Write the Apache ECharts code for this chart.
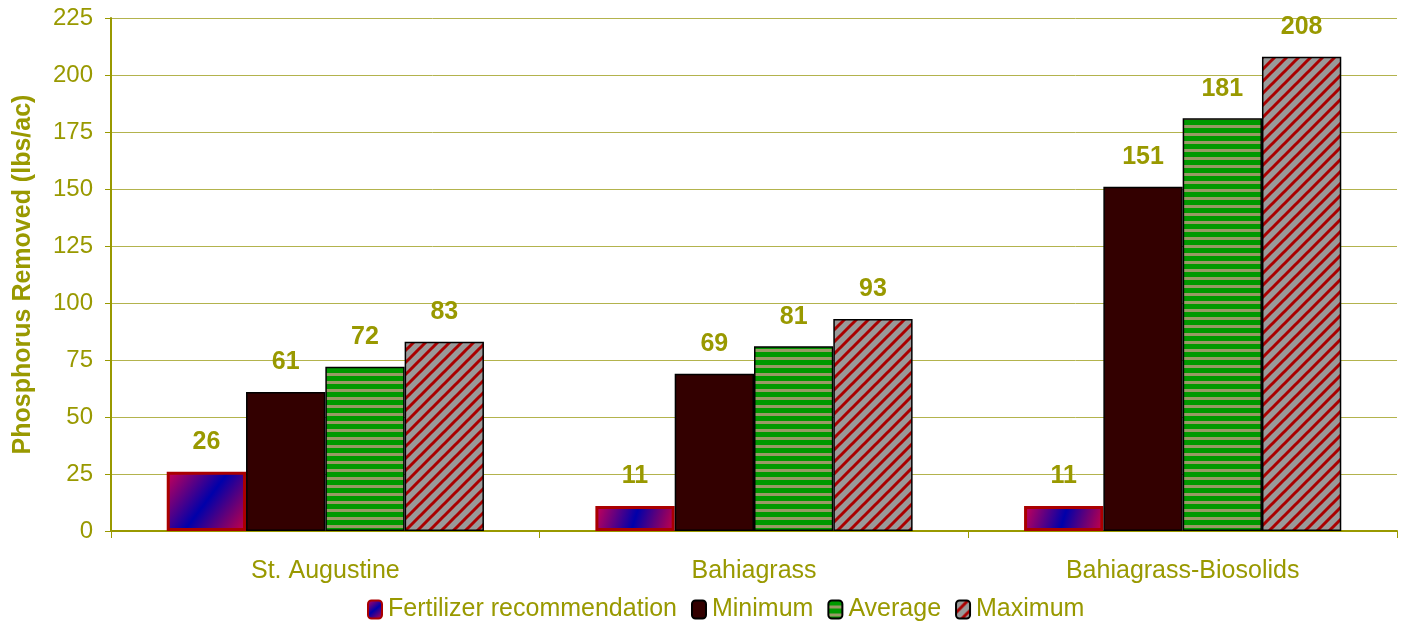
<!DOCTYPE html>
<html>
<head>
<meta charset="utf-8">
<script src="https://cdn.jsdelivr.net/npm/echarts@6/dist/echarts.min.js"></script>
<style>
  html, body { margin: 0; padding: 0; background: #fff; }
  #chart { width: 1403px; height: 625px; }
</style>
</head>
<body>
<div id="chart"></div>
<script>
  var categories = ['St. Augustine', 'Bahiagrass', 'Bahiagrass-Biosolids'];
  var fertilizer = [26, 11, 11];
  var minimum = [61, 69, 151];
  var average = [72, 81, 181];
  var maximum = [83, 93, 208];

  var olive = '#999900';

  // horizontal green / khaki stripes
  function stripePattern() {
    var c = document.createElement('canvas');
    c.width = 8; c.height = 8;
    var g = c.getContext('2d');
    g.fillStyle = '#999966';
    g.fillRect(0, 0, 8, 8);
    g.fillStyle = '#009900';
    g.fillRect(0, 0, 8, 5);
    return { image: c, repeat: 'repeat' };
  }

  // red diagonal lines on gray
  function diagPattern() {
    var s = 12;
    var c = document.createElement('canvas');
    c.width = s; c.height = s;
    var g = c.getContext('2d');
    g.fillStyle = '#999999';
    g.fillRect(0, 0, s, s);
    g.strokeStyle = '#aa0000';
    g.lineWidth = 3;
    g.beginPath();
    g.moveTo(-s, s); g.lineTo(s, -s);
    g.moveTo(0, s * 2); g.lineTo(s * 2, 0);
    g.moveTo(0, s); g.lineTo(s, 0);
    g.stroke();
    return { image: c, repeat: 'repeat' };
  }

  var chart = echarts.init(document.getElementById('chart'));

  var labelStyle = {
    show: true,
    position: 'top',
    distance: 17,
    color: olive,
    fontSize: 25,
    fontWeight: 'bold',
    fontFamily: 'Liberation Sans'
  };

  chart.setOption({
    animation: false,
    textStyle: { fontFamily: 'Liberation Sans' },
    grid: { left: 111, right: 6, top: 18, bottom: 94 },
    legend: {
      bottom: -2,
      left: 362,
      itemWidth: 14,
      itemHeight: 18,
      itemGap: 14,
      textStyle: { color: olive, fontSize: 25, padding: [0, 0, 0, 1] },
      data: ['Fertilizer recommendation', 'Minimum', 'Average', 'Maximum']
    },
    xAxis: {
      type: 'category',
      data: categories,
      axisLine: { lineStyle: { color: olive, width: 2 } },
      axisTick: { show: true, length: 7, lineStyle: { color: olive } },
      axisLabel: { color: olive, fontSize: 25, margin: 28 }
    },
    yAxis: {
      type: 'value',
      min: 0,
      max: 225,
      interval: 25,
      name: 'Phosphorus Removed (lbs/ac)',
      nameLocation: 'middle',
      nameGap: 75,
      nameTextStyle: { color: olive, fontSize: 25, fontWeight: 'bold' },
      axisLine: { show: true, lineStyle: { color: olive, width: 2 } },
      axisTick: { show: true, length: 6, lineStyle: { color: olive } },
      axisLabel: { color: olive, fontSize: 24, margin: 18 },
      splitLine: { lineStyle: { color: '#b3b34d', width: 1 } }
    },
    series: [
      {
        name: 'Fertilizer recommendation',
        type: 'bar',
        data: fertilizer,
        barGap: '0%',
        barCategoryGap: '26%',
        label: labelStyle,
        itemStyle: {
          color: {
            type: 'linear', x: 0, y: 0, x2: 1, y2: 1,
            colorStops: [
              { offset: 0, color: '#cc0055' },
              { offset: 0.5, color: '#0000aa' },
              { offset: 1, color: '#cc0044' }
            ]
          },
          borderColor: '#aa0000',
          borderWidth: 3
        }
      },
      {
        name: 'Minimum',
        type: 'bar',
        data: minimum,
        label: labelStyle,
        itemStyle: { color: '#330000', borderColor: '#000', borderWidth: 1.5 }
      },
      {
        name: 'Average',
        type: 'bar',
        data: average,
        label: labelStyle,
        itemStyle: { color: stripePattern(), borderColor: '#000', borderWidth: 1.5 }
      },
      {
        name: 'Maximum',
        type: 'bar',
        data: maximum,
        label: labelStyle,
        itemStyle: { color: diagPattern(), borderColor: '#000', borderWidth: 1.5 }
      }
    ]
  });
</script>
</body>
</html>
